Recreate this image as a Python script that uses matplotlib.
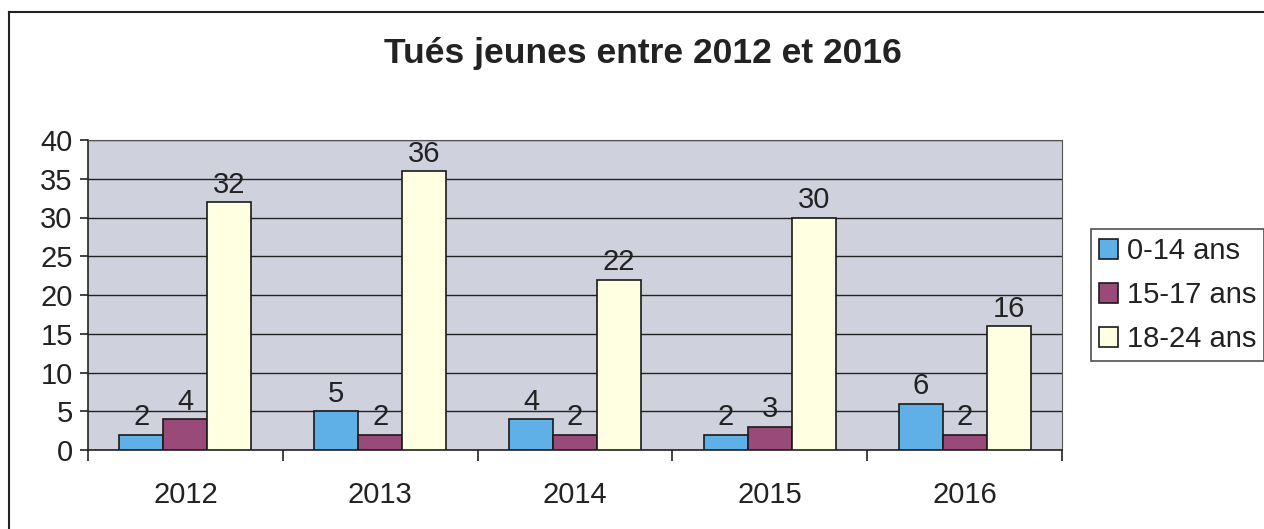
import matplotlib
matplotlib.use("Agg")
import matplotlib.pyplot as plt
import numpy as np
from matplotlib.lines import Line2D

years = ["2012", "2013", "2014", "2015", "2016"]
series_names = ["0-14 ans", "15-17 ans", "18-24 ans"]
v_0_14 = [2, 5, 4, 2, 6]
v_15_17 = [4, 2, 2, 3, 2]
v_18_24 = [32, 36, 22, 30, 16]
values = [v_0_14, v_15_17, v_18_24]
colors = ["#5fb0e6", "#9a4a78", "#ffffe2"]

plt.rcParams['font.family'] = ['Liberation Sans', 'DejaVu Sans']

fig = plt.figure(figsize=(12.64, 5.29), dpi=100)
ax = fig.add_axes([88/1264, 1-450/529, (1062-88)/1264, (450-140)/529])
ax.set_facecolor("#cfd1dd")

x = np.arange(len(years))
w = 0.226
for i, (vals, c, name) in enumerate(zip(values, colors, series_names)):
    pos = x + (i-1)*w
    ax.bar(pos, vals, width=w, color=c, edgecolor="#1a1a1a", linewidth=1.2, label=name, zorder=3)
    for xp, v in zip(pos, vals):
        ax.annotate(str(v), (xp, v), xytext=(0, 2.5), textcoords="offset points",
                    ha="center", va="bottom", fontsize=21, color="#222222", zorder=4)

ax.set_xlim(-0.5, len(years)-0.5)
ax.set_ylim(0, 40)
ax.set_yticks(range(0, 41, 5))
ax.yaxis.grid(True, color="#222222", linewidth=1.0, zorder=1)
ax.set_axisbelow(True)
ax.set_xticks(x)
ax.set_xticklabels(years)
ax.set_xticks(np.arange(-0.5, len(years), 1), minor=True)
ax.tick_params(axis="x", which="major", length=0, pad=22, labelsize=21, labelcolor="#222222")
ax.tick_params(axis="x", which="minor", length=8, width=1.2, color="#222222", direction="out")
ax.tick_params(axis="y", length=6, width=1.2, color="#222222", labelsize=21, labelcolor="#222222", pad=5)
for s in ["left", "bottom"]:
    ax.spines[s].set_color("#222222")
    ax.spines[s].set_linewidth(1.2)
for s in ["top", "right"]:
    ax.spines[s].set_color("#555555")
    ax.spines[s].set_linewidth(0.8)

fig.text(643/1264, 1-54/529, "Tués jeunes entre 2012 et 2016", ha="center", va="center",
         fontsize=25.5, fontweight="bold", color="#222222")

leg = ax.legend(loc="upper left", bbox_to_anchor=(1091/1264, 1-229/529),
                bbox_transform=fig.transFigure, fontsize=21, frameon=True, fancybox=False,
                shadow=False, handlelength=0.65, handleheight=0.65, handletextpad=0.3,
                labelspacing=0.55, borderpad=0.28, borderaxespad=0)
leg.get_frame().set_edgecolor("#222222")
leg.get_frame().set_linewidth(1.2)
for t in leg.get_texts():
    t.set_color("#222222")

fig.add_artist(Line2D([9/1264, 9/1264], [0, 1-12/529], color="#222222", linewidth=1.5))
fig.add_artist(Line2D([9/1264, 1], [1-12/529, 1-12/529], color="#222222", linewidth=1.5))

fig.savefig("out.png", dpi=100)
